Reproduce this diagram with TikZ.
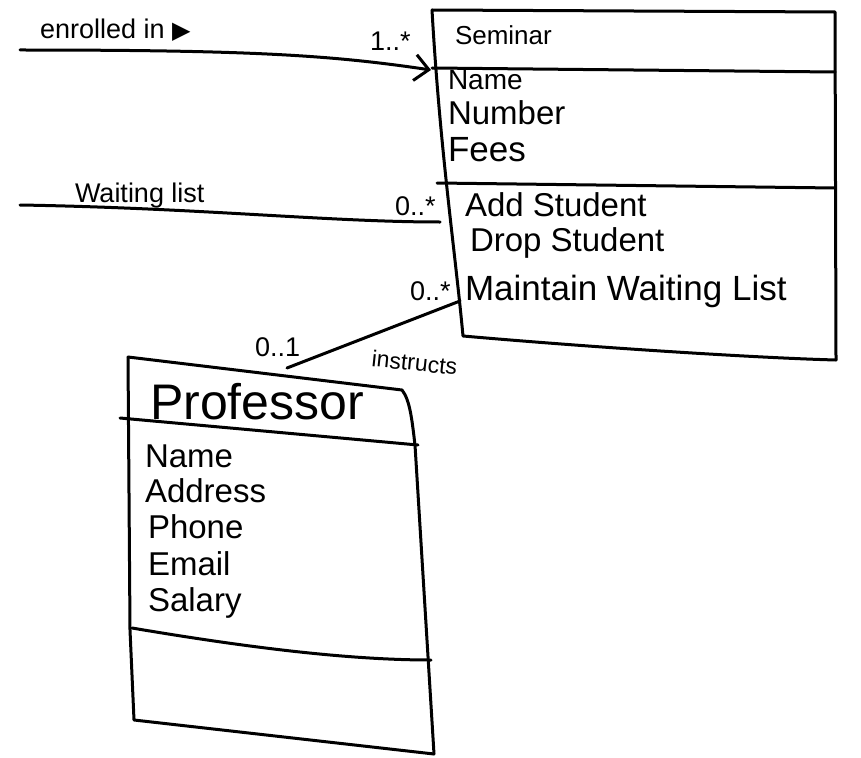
\documentclass[tikz,border=0pt]{standalone}
\usepackage{fontspec}
\setmainfont{Liberation Sans}
\newfontfamily\symfont{DejaVu Sans}
\usetikzlibrary{arrows.meta}
\begin{document}
\begin{tikzpicture}[x=1pt,y=-1pt,
  ink/.style={line width=3pt,line cap=round,line join=round,black},
  txt/.style={anchor=west,inner sep=0pt,outer sep=0pt},
  small/.style={txt,font=\fontsize{27}{29}\selectfont},
  mid/.style={txt,font=\fontsize{33}{35}\selectfont},
  big/.style={txt,font=\fontsize{35}{37}\selectfont}]
\useasboundingbox (0,0) rectangle (861,757);
% ---------- Seminar class ----------
\coordinate (stl) at (432,10);
\coordinate (str) at (835,12);
\coordinate (sbr) at (836,360);
\coordinate (sbl) at (463,336);
\coordinate (st1) at (432,68);
\coordinate (st2) at (835,72);
\coordinate (so1) at (437,183);
\coordinate (so2) at (835,188);
\draw[ink] (stl) -- (str) -- (sbr);
\draw[ink] (stl) .. controls (440,150) and (455,250) .. (sbl) .. controls (600,348) and (760,358) .. (sbr);
\draw[ink] (st1) -- (st2);
\draw[ink] (so1) -- (so2);
\node[txt,font=\fontsize{26}{28}\selectfont] (sname) at (455,35) {Seminar};
\node[txt,font=\fontsize{28}{30}\selectfont] (sa1) at (448,80) {Name};
\node[txt,font=\fontsize{33}{35}\selectfont] (sa2) at (448,113) {Number};
\node[big] (sa3) at (448,150) {Fees};
\node[mid] (so1t) at (465,205) {Add Student};
\node[mid] (so2t) at (470,243) {Drop Student};
\node[big] (so3t) at (465,291) {Maintain Waiting List};
% ---------- Professor class ----------
\coordinate (ptl) at (128,357);
\coordinate (ptr) at (402,390);
\coordinate (pbr) at (434,754);
\coordinate (pbl) at (134,720);
\coordinate (pt1) at (120,418);
\coordinate (pt2) at (418,445);
\coordinate (pa1) at (132,628);
\coordinate (pa2) at (431,660);
\draw[ink] (ptl) -- (ptr) .. controls (410,400) and (412,420) .. (415,445) -- (pbr);
\draw[ink] (ptl) -- (130,630) -- (pbl) -- (pbr);
\draw[ink] (pt1) -- (pt2);
\draw[ink] (pa1) .. controls (250,648) and (350,660) .. (pa2);
\node[txt,font=\fontsize{50}{52}\selectfont] (pname) at (150,402) {Professor};
\node[mid] (pb1) at (145,456) {Name};
\node[mid] (pb2) at (145,491) {Address};
\node[mid] (pb3) at (148,527) {Phone};
\node[mid] (pb4) at (148,564) {Email};
\node[mid] (pb5) at (148,603) {Salary};
% ---------- associations ----------
\coordinate (e0) at (20,50);
\coordinate (e1) at (431,70);
\draw[ink,-{Straight Barb[length=14pt,width=26pt,line width=3pt]}] (e0) .. controls (250,50) and (330,55) .. (e1);
\node[small] (enr) at (40,30) {enrolled in {\symfont\fontsize{24}{26}\selectfont ▶}};
\node[small] (m1) at (370,41) {1..*};
\coordinate (w0) at (20,205);
\coordinate (w1) at (440,222);
\draw[ink] (w0) .. controls (200,208) and (330,222) .. (w1);
\node[small] (wl) at (75,196) {Waiting list};
\node[small] (m2) at (395,206) {0..*};
\coordinate (i0) at (287,368);
\coordinate (i1) at (460,301);
\draw[ink] (i0) -- (i1);
\node[small] (m3) at (410,291) {0..*};
\node[small] (m4) at (255,347) {0..1};
\node[txt,font=\fontsize{23}{25}\selectfont,rotate=-6] (ins) at (372,358) {instructs};
\end{tikzpicture}
\end{document}
